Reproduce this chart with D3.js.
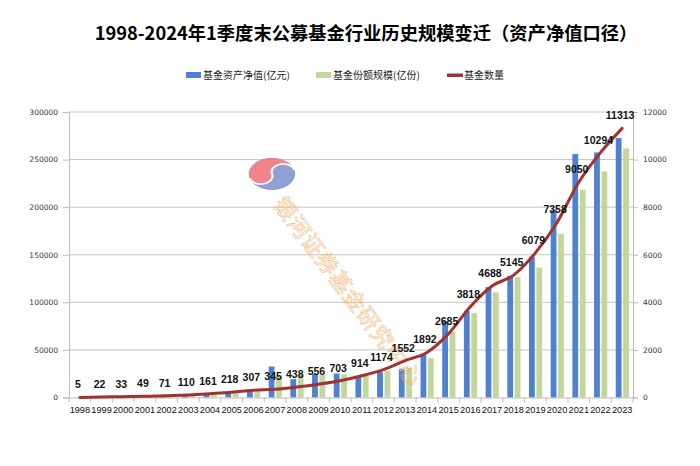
<!DOCTYPE html>
<html><head><meta charset="utf-8">
<script src="https://cdn.jsdelivr.net/npm/d3@7"></script>
<style>
html,body{margin:0;padding:0;background:#fff;}
svg{display:block;}
</style></head>
<body><svg id="chart" width="700" height="466"></svg>
<script>
const years = ["1998","1999","2000","2001","2002","2003","2004","2005","2006","2007","2008","2009","2010","2011","2012","2013","2014","2015","2016","2017","2018","2019","2020","2021","2022","2023"];
const netAsset = [104,575,845,800,1330,1700,3250,4690,8565,32600,19300,24600,25200,21400,26700,29900,45600,80000,90800,116000,127900,147500,197000,255800,257500,272600];
const shares = [100,500,560,800,1300,1600,3200,4715,6220,22300,23900,23800,24200,22800,28000,31300,41400,69400,88700,110400,126500,136600,172000,218300,237500,261700];
const fundCount = [5,22,33,49,71,110,161,218,307,345,438,556,703,914,1174,1552,1892,2685,3818,4688,5145,6079,7358,9050,10294,11313];
const leftTicks = [0,50000,100000,150000,200000,250000,300000];
const rightTicks = [0,2000,4000,6000,8000,10000,12000];
const title = "1998-2024年1季度末公募基金行业历史规模变迁（资产净值口径）";
const seriesNames = ["基金资产净值(亿元)","基金份额规模(亿份)","基金数量"];
const watermark = "银河证券基金研究中心";

const svg = d3.select("#chart");
const font = "'Noto Sans CJK SC','Noto Sans',sans-serif";
const L = 69, R = 633, T = 112, B = 397.5;

const x = d3.scaleBand().domain(years).range([L, R]).padding(0);
const yL = d3.scaleLinear().domain([0, 300000]).range([B, T]);
const yR = d3.scaleLinear().domain([0, 12000]).range([B, T]);

// title
svg.append("text").attr("x", 366).attr("y", 40).attr("text-anchor", "middle")
  .attr("font-family", font).attr("font-weight", "bold").attr("font-size", 18.3)
  .attr("fill", "#000").text(title);

// legend
const lg = svg.append("g").attr("font-family", font).attr("font-size", 10).attr("fill", "#222");
lg.append("rect").attr("x", 186).attr("y", 72).attr("width", 15).attr("height", 6).attr("fill", "#4F81D0");
lg.append("text").attr("x", 203).attr("y", 79).text(seriesNames[0]);
lg.append("rect").attr("x", 316).attr("y", 72).attr("width", 15).attr("height", 6).attr("fill", "#C3D69B");
lg.append("text").attr("x", 333).attr("y", 79).text(seriesNames[1]);
lg.append("rect").attr("x", 447).attr("y", 73.5).attr("width", 16).attr("height", 3.5).attr("fill", "#A0322F");
lg.append("text").attr("x", 464).attr("y", 79).text(seriesNames[2]);

// gridlines
svg.append("g").selectAll("line").data(leftTicks.filter(d => d > 0)).join("line")
  .attr("x1", L).attr("x2", R).attr("y1", d => yL(d)).attr("y2", d => yL(d))
  .attr("stroke", "#c4c4c4").attr("stroke-width", 1);

// left axis
const axL = svg.append("g").attr("transform", `translate(${L},0)`)
  .call(d3.axisLeft(yL).tickValues(leftTicks).tickFormat(d3.format("d")).tickSize(6).tickPadding(5));
axL.select(".domain").attr("stroke", "#bdbdbd");
axL.selectAll(".tick line").attr("stroke", "#bdbdbd");
axL.selectAll("text").attr("font-family", "'DejaVu Sans',sans-serif").attr("font-size", 7.5).attr("fill", "#333");

// right axis
const axR = svg.append("g").attr("transform", `translate(${R},0)`)
  .call(d3.axisRight(yR).tickValues(rightTicks).tickFormat(d3.format("d")).tickSize(5).tickPadding(5));
axR.select(".domain").attr("stroke", "#bdbdbd");
axR.selectAll(".tick line").attr("stroke", "#bdbdbd");
axR.selectAll("text").attr("font-family", "'DejaVu Sans',sans-serif").attr("font-size", 7.5).attr("fill", "#333");

// bars
const bw = 5.8;
svg.append("g").selectAll("rect").data(years).join("rect")
  .attr("x", (d) => x(d) + x.bandwidth()/2 - bw - 0.6)
  .attr("y", (d, i) => yL(netAsset[i]))
  .attr("width", bw)
  .attr("height", (d, i) => B - yL(netAsset[i]))
  .attr("fill", "#4F81D0");
svg.append("g").selectAll("rect").data(years).join("rect")
  .attr("x", (d) => x(d) + x.bandwidth()/2 + 1)
  .attr("y", (d, i) => yL(shares[i]))
  .attr("width", bw)
  .attr("height", (d, i) => B - yL(shares[i]))
  .attr("fill", "#C3D69B");

// x axis
const axX = svg.append("g").attr("transform", `translate(0,${B})`)
  .call(d3.axisBottom(x).tickSize(0).tickPadding(9));
axX.select(".domain").attr("stroke", "#bdbdbd");
axX.selectAll("text").attr("font-family", "'Liberation Sans',Arial,sans-serif")
  .attr("font-size", 9.2).attr("fill", "#111");
svg.append("g").selectAll("line").data(years.concat(["end"])).join("line")
  .attr("x1", (d, i) => L + i * x.bandwidth()).attr("x2", (d, i) => L + i * x.bandwidth())
  .attr("y1", B).attr("y2", B + 5).attr("stroke", "#bdbdbd");

// watermark logo
const wm = svg.append("g").attr("opacity", 0.85)
  .attr("transform", "translate(272,174) scale(1.45,1)");
const r = 16, a = -15 * Math.PI / 180;
const p1 = [r * Math.cos(a), r * Math.sin(a)], p2 = [-p1[0], -p1[1]];
wm.append("circle").attr("r", r).attr("fill", "#7E8FCB");
wm.append("path").attr("d",
  `M ${p1[0]} ${p1[1]} A ${r} ${r} 0 0 0 ${p2[0]} ${p2[1]}
   A ${r/2} ${r/2} 0 0 0 0 0 A ${r/2} ${r/2} 0 0 1 ${p1[0]} ${p1[1]} Z`)
  .attr("fill", "#EE7079");
wm.append("path").attr("d",
  `M ${p2[0]} ${p2[1]} A ${r/2} ${r/2} 0 0 0 0 0 A ${r/2} ${r/2} 0 0 1 ${p1[0]} ${p1[1]}`)
  .attr("fill", "none").attr("stroke", "#fff").attr("stroke-width", 1.5);
svg.append("text").attr("transform", `translate(289,192) rotate(53)`)
  .attr("font-family", font).attr("font-size", 22).attr("fill", "none")
  .attr("stroke", "#F6B06A").attr("stroke-width", 0.6).attr("opacity", 0.9)
  .attr("letter-spacing", 1)
  .attr("dominant-baseline", "hanging").text(watermark);

// line
const line = d3.line()
  .x((d, i) => x(years[i]) + x.bandwidth()/2)
  .y(d => yR(d))
  .curve(d3.curveMonotoneX);
svg.append("path").datum(fundCount).attr("d", line)
  .attr("fill", "none").attr("stroke", "#A0322F").attr("stroke-width", 3).attr("stroke-linecap", "round");

// line labels
svg.append("g").selectAll("text").data(fundCount).join("text")
  .attr("x", (d, i) => x(years[i]) + x.bandwidth()/2 - 2)
  .attr("y", d => yR(d) - 9)
  .attr("text-anchor", "middle")
  .attr("font-family", "'Liberation Sans',Arial,sans-serif").attr("font-weight", "bold")
  .attr("font-size", 10.5).attr("fill", "#111")
  .text(d => d);
</script></body></html>
